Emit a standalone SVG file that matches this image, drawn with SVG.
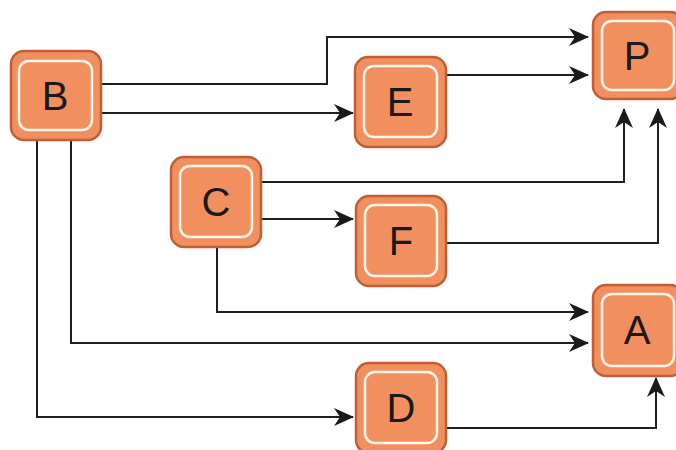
<svg xmlns="http://www.w3.org/2000/svg" width="676" height="450" viewBox="0 0 676 450">
  <defs>
    <marker id="arrow" viewBox="0 0 20 18" refX="19" refY="9" markerWidth="20" markerHeight="18" markerUnits="userSpaceOnUse" orient="auto">
      <path d="M0,0 L20,9 L0,18 L6,9 Z" fill="#1a1a1a"/>
    </marker>
  </defs>
  <style>
    .outer { fill: #F28F5E; stroke: #C05F36; stroke-width: 2.5; }
    .inner { fill: none; stroke: #FFF6EE; stroke-width: 2.5; }
    .label { font-family: "Liberation Sans", Arial, sans-serif; font-size: 40px; fill: #1a1a1a; text-anchor: middle; dominant-baseline: central; }
    .edge { fill: none; stroke: #1f1f1f; stroke-width: 2; marker-end: url(#arrow); }
  </style>
  <rect width="676" height="450" fill="#ffffff"/>

  <g id="connectors">
    <!-- B to P, stepping up over E -->
    <path class="edge" d="M101,84 H327 V37 H588"/>
    <!-- B to E -->
    <path class="edge" d="M101,113 H353"/>
    <!-- E to P -->
    <path class="edge" d="M446,75 H588"/>
    <!-- C to P -->
    <path class="edge" d="M261,182 H624 V109"/>
    <!-- C to F -->
    <path class="edge" d="M261,219 H353"/>
    <!-- F to P -->
    <path class="edge" d="M446,243 H658 V109"/>
    <!-- C to A -->
    <path class="edge" d="M217,247 V312 H588"/>
    <!-- B to A -->
    <path class="edge" d="M71,140 V343 H588"/>
    <!-- B to D -->
    <path class="edge" d="M37,140 V417 H353"/>
    <!-- D to A -->
    <path class="edge" d="M446,428 H656 V378"/>
  </g>

  <g id="node-B">
    <rect class="outer" x="11" y="51" width="90" height="89" rx="13"/>
    <rect class="inner" x="19" y="61" width="73" height="69" rx="10"/>
    <text class="label" x="55" y="96">B</text>
  </g>
  <g id="node-E">
    <rect class="outer" x="355" y="57" width="91" height="90" rx="13"/>
    <rect class="inner" x="364" y="66" width="73" height="71" rx="10"/>
    <text class="label" x="400" y="102">E</text>
  </g>
  <g id="node-P">
    <rect class="outer" x="593" y="12" width="90" height="87" rx="13"/>
    <rect class="inner" x="602" y="21" width="72" height="69" rx="10"/>
    <text class="label" x="637" y="56">P</text>
  </g>
  <g id="node-C">
    <rect class="outer" x="171" y="157" width="90" height="90" rx="13"/>
    <rect class="inner" x="180" y="166" width="72" height="71" rx="10"/>
    <text class="label" x="216" y="202">C</text>
  </g>
  <g id="node-F">
    <rect class="outer" x="356" y="196" width="90" height="90" rx="13"/>
    <rect class="inner" x="365" y="205" width="72" height="71" rx="10"/>
    <text class="label" x="401" y="241">F</text>
  </g>
  <g id="node-A">
    <rect class="outer" x="593" y="285" width="90" height="91" rx="13"/>
    <rect class="inner" x="602" y="294" width="72" height="72" rx="10"/>
    <text class="label" x="637" y="330">A</text>
  </g>
  <g id="node-D">
    <rect class="outer" x="356" y="363" width="90" height="90" rx="13"/>
    <rect class="inner" x="365" y="372" width="72" height="71" rx="10"/>
    <text class="label" x="401" y="408">D</text>
  </g>
</svg>
